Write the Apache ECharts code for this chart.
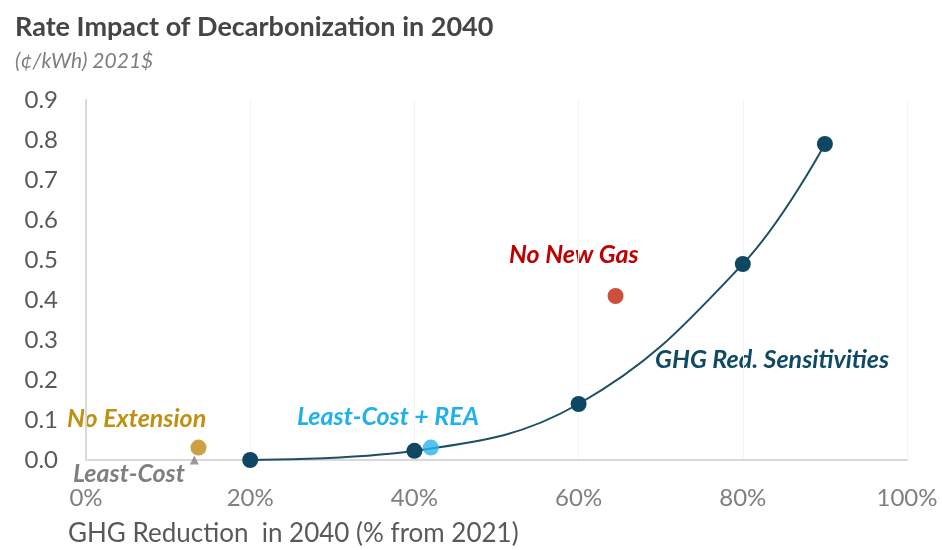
<!DOCTYPE html>
<html>
<head>
<meta charset="utf-8">
<script src="https://cdn.jsdelivr.net/npm/echarts@6/dist/echarts.min.js"></script>
<style>
  html, body { margin: 0; padding: 0; background: #fff; }
  #main { width: 942px; height: 550px; }
</style>
</head>
<body>
<div id="main"></div>
<script>
// GHG reduction (%) vs rate impact (¢/kWh)
const ghgSens = [[20, 0.0], [40, 0.023], [60, 0.14], [80, 0.49], [90, 0.79]]
const leastCostRea = [[42, 0.031]]
const noNewGas = [[64.5, 0.41]]
const noExtension = [[13.7, 0.031]]
const leastCost = [[13.2, 0.0]]
const yTicks = [0, 0.1, 0.2, 0.3, 0.4, 0.5, 0.6, 0.7, 0.8, 0.9]

const font = 'Lato, "Open Sans", sans-serif'
const chart = echarts.init(document.getElementById('main'))

function label(text, x, y, color) {
  return {
    type: 'text', left: x, top: y,
    style: { text: text, fill: color, font: 'italic bold 25px ' + font }
  }
}

chart.setOption({
  animation: false,
  title: {
    text: 'Rate Impact of Decarbonization in 2040',
    subtext: '(¢/kWh) 2021$',
    left: 10, top: 9,
    textStyle: { fontFamily: font, fontSize: 27, fontWeight: 'bold', color: '#454545' },
    subtextStyle: { fontFamily: font, fontSize: 21, fontStyle: 'italic', color: '#7f7f7f' },
    itemGap: 10
  },
  grid: { left: 86, right: 35, top: 100, bottom: 90 },
  xAxis: {
    type: 'value', min: 0, max: 100, interval: 20,
    name: 'GHG Reduction  in 2040 (% from 2021)',
    nameLocation: 'start',
    nameGap: 0,
    nameTextStyle: { fontFamily: font, fontSize: 26, color: '#595959', align: 'left', verticalAlign: 'top', padding: [61, 0, 0, -18] },
    axisLine: { lineStyle: { color: '#d9d9d9', width: 2 } },
    axisTick: { show: false },
    axisLabel: { formatter: '{value}%', fontFamily: font, fontSize: 24, color: '#7f7f7f', margin: 26 },
    splitLine: { show: true, lineStyle: { color: '#f4f4f4' } }
  },
  yAxis: {
    type: 'value', min: 0, max: 0.9, interval: 0.1,
    axisLine: { show: true, lineStyle: { color: '#d9d9d9', width: 2 } },
    axisTick: { show: false },
    axisLabel: {
      formatter: v => yTicks.includes(+v.toFixed(1)) ? v.toFixed(1) : '',
      fontFamily: font, fontSize: 24, color: '#595959', margin: 28
    },
    splitLine: { show: false }
  },
  series: [
    {
      name: 'GHG Red. Sensitivities', type: 'line', data: ghgSens, smooth: 0.4,
      symbol: 'circle', symbolSize: 16,
      lineStyle: { color: '#1b4f66', width: 2 },
      itemStyle: { color: '#0f4763' }, z: 3
    },
    {
      name: 'Least-Cost', type: 'scatter', data: leastCost,
      symbol: 'triangle', symbolSize: 9, itemStyle: { color: '#7f7f7f' }, z: 2
    },
    {
      name: 'No Extension', type: 'scatter', data: noExtension,
      symbolSize: 16, itemStyle: { color: '#bf8a14' }, z: 3
    },
    {
      name: 'Least-Cost + REA', type: 'scatter', data: leastCostRea,
      symbolSize: 16, itemStyle: { color: '#29b4ef' }, z: 4
    },
    {
      name: 'No New Gas', type: 'scatter', data: noNewGas,
      symbolSize: 16, itemStyle: { color: '#c0230c' }, z: 4
    }
  ],
  graphic: [
    label('No New Gas', 509, 242, '#c00000'),
    label('GHG Red. Sensitivities', 655, 347, '#0e4a66'),
    label('Least-Cost + REA', 297, 404, '#20b0f0'),
    label('No Extension', 67, 406, '#c09012'),
    label('Least-Cost', 73, 461, '#7f7f7f')
  ]
})
</script>
</body>
</html>
